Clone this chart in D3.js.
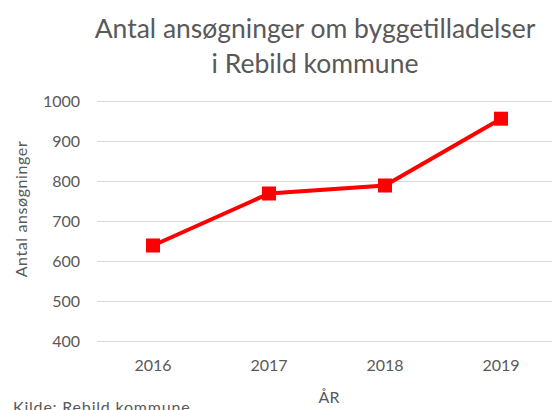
<!DOCTYPE html>
<html>
<head>
<meta charset="utf-8">
<script src="https://cdn.jsdelivr.net/npm/d3@7"></script>
<style>
  body { margin: 0; background: #fff; }
  text { font-family: Lato, "Open Sans", sans-serif; fill: #595959; }
</style>
</head>
<body>
<script>
// data
var years = ["2016", "2017", "2018", "2019"];
var counts = [640, 770, 790, 957];
var yTicks = [400, 500, 600, 700, 800, 900, 1000];

var W = 552, H = 410;
var svg = d3.select("body").append("svg").attr("width", W).attr("height", H);

var x = d3.scalePoint().domain(years).range([153, 501]);
var y = d3.scaleLinear().domain([400, 1000]).range([341.5, 101.5]);

// gridlines
svg.append("g").selectAll("line")
  .data(yTicks)
  .enter().append("line")
  .attr("x1", 97).attr("x2", 552)
  .attr("y1", function(d) { return y(d); })
  .attr("y2", function(d) { return y(d); })
  .attr("stroke", "#d9d9d9").attr("stroke-width", 1);

// y labels
svg.append("g").selectAll("text")
  .data(yTicks)
  .enter().append("text")
  .attr("x", 80).attr("y", function(d) { return y(d); })
  .attr("dy", "0.35em").attr("text-anchor", "end")
  .style("font-size", "16px")
  .text(function(d) { return d; });

// x labels
svg.append("g").selectAll("text")
  .data(years)
  .enter().append("text")
  .attr("x", function(d) { return x(d); }).attr("y", 371)
  .attr("text-anchor", "middle")
  .style("font-size", "16px")
  .text(function(d) { return d; });

var pts = years.map(function(d, i) { return { year: d, v: counts[i] }; });

svg.append("path")
  .datum(pts)
  .attr("fill", "none").attr("stroke", "#ff0000").attr("stroke-width", 4)
  .attr("d", d3.line().x(function(d) { return x(d.year); }).y(function(d) { return y(d.v); }));

svg.append("g").selectAll("rect")
  .data(pts)
  .enter().append("rect")
  .attr("x", function(d) { return x(d.year) - 7; })
  .attr("y", function(d) { return y(d.v) - 7; })
  .attr("width", 14).attr("height", 14)
  .attr("fill", "#ff0000");

// titles
svg.append("text").attr("x", 315).attr("y", 38).attr("text-anchor", "middle")
  .style("font-size", "26.5px").text("Antal ansøgninger om byggetilladelser");
svg.append("text").attr("x", 315).attr("y", 73).attr("text-anchor", "middle")
  .style("font-size", "26.5px").text("i Rebild kommune");

svg.append("text")
  .attr("transform", "translate(27,209) rotate(-90)")
  .attr("text-anchor", "middle")
  .style("font-size", "16px").style("letter-spacing", "0.6px")
  .text("Antal ansøgninger");

svg.append("text").attr("x", 329).attr("y", 403).attr("text-anchor", "middle")
  .style("font-size", "16px").text("ÅR");

svg.append("text").attr("x", 13).attr("y", 413)
  .style("font-size", "16px").style("letter-spacing", "0.8px")
  .text("Kilde: Rebild kommune");
</script>
</body>
</html>
